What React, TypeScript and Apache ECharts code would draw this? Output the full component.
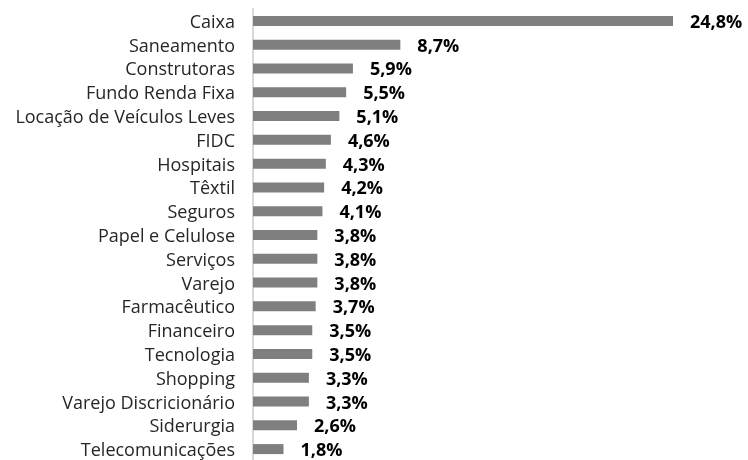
import React, { useEffect, useRef } from "react";
import * as echarts from "echarts";

const categories = [
  "Caixa",
  "Saneamento",
  "Construtoras",
  "Fundo Renda Fixa",
  "Locação de Veículos Leves",
  "FIDC",
  "Hospitais",
  "Têxtil",
  "Seguros",
  "Papel e Celulose",
  "Serviços",
  "Varejo",
  "Farmacêutico",
  "Financeiro",
  "Tecnologia",
  "Shopping",
  "Varejo Discricionário",
  "Siderurgia",
  "Telecomunicações",
];
const values = [24.8, 8.7, 5.9, 5.5, 5.1, 4.6, 4.3, 4.2, 4.1, 3.8, 3.8, 3.8, 3.7, 3.5, 3.5, 3.3, 3.3, 2.6, 1.8];

export default function App() {
  const ref = useRef<HTMLDivElement>(null);
  useEffect(() => {
    if (!ref.current) return;
    const chart = echarts.init(ref.current, undefined, { renderer: "svg" });
    chart.setOption({
      animation: false,
      grid: { left: 253, top: 9, width: 423.4, height: 452 },
      xAxis: {
        type: "value",
        min: 0,
        max: 25,
        show: false,
      },
      yAxis: {
        type: "category",
        data: categories,
        inverse: true,
        axisLine: { show: true, lineStyle: { color: "#d9d9d9", width: 2 } },
        axisTick: { show: false },
        axisLabel: {
          margin: 18,
          fontFamily: "Open Sans",
          fontSize: 18,
          color: "#262626",
        },
      },
      series: [
        {
          type: "bar",
          data: values,
          barWidth: 10,
          itemStyle: { color: "#7f7f7f" },
          label: {
            show: true,
            position: "right",
            distance: 17,
            fontFamily: "Open Sans",
            fontWeight: "bold",
            fontSize: 18,
            color: "#000",
            formatter: (p: any) => p.value.toFixed(1).replace(".", ",") + "%",
          },
        },
      ],
    });
    return () => chart.dispose();
  }, []);
  return (
    <div
      ref={ref}
      style={{ position: "fixed", left: 0, top: 0, width: 748, height: 470 }}
    />
  );
}
